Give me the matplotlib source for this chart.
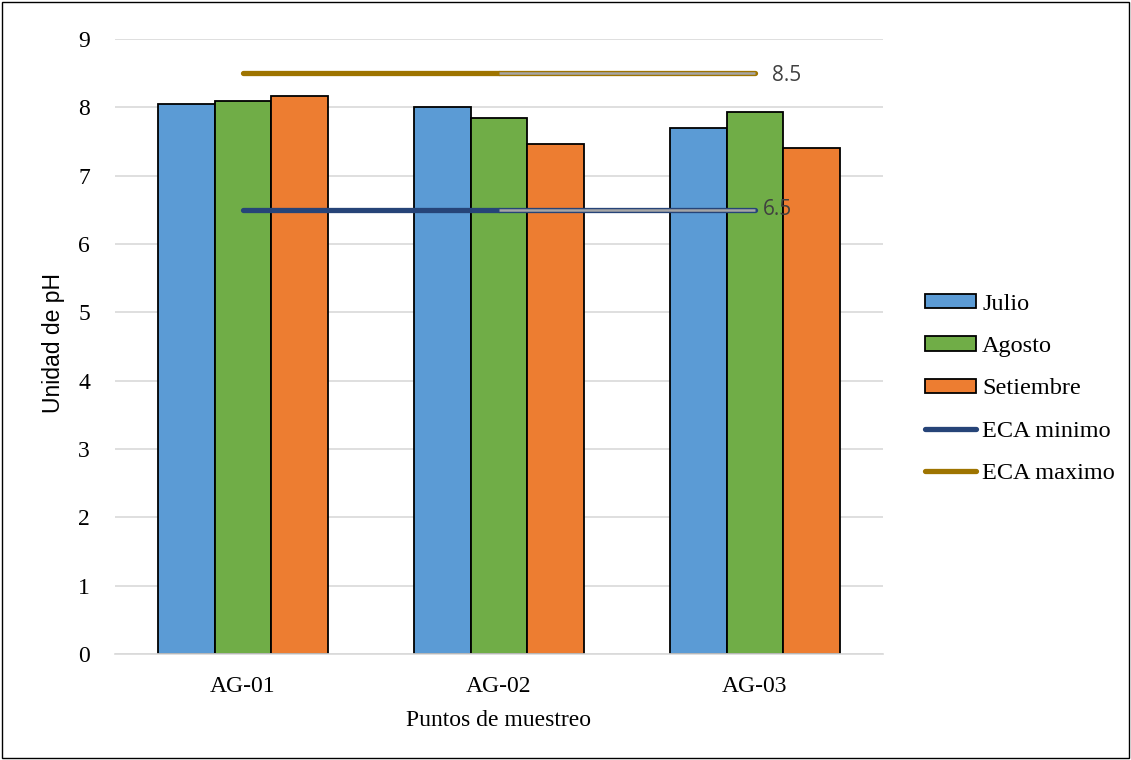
import numpy as np
import matplotlib.pyplot as plt
from matplotlib.patches import Patch, Rectangle
from matplotlib.lines import Line2D

puntos = ['AG-01', 'AG-02', 'AG-03']
julio = [8.05, 8.00, 7.70]
agosto = [8.09, 7.84, 7.93]
setiembre = [8.17, 7.47, 7.41]
eca_min = [6.5, 6.5, 6.5]
eca_max = [8.5, 8.5, 8.5]

c_jul = '#5B9BD5'
c_ago = '#70AD47'
c_set = '#ED7D31'
c_min = '#264478'
c_max = '#9E7400'

fig = plt.figure(figsize=(11.31, 7.6), dpi=100)
ax = fig.add_axes([115 / 1131, 106 / 760, 768 / 1131, 615 / 760])
fig.patches.append(Rectangle((0.002, 0.002), 0.996, 0.996, transform=fig.transFigure,
                             fill=False, edgecolor='black', linewidth=1))

x = np.arange(len(puntos))
w = 0.222
ax.bar(x - w, julio, w, color=c_jul, edgecolor='black', linewidth=1.3, zorder=2)
ax.bar(x, agosto, w, color=c_ago, edgecolor='black', linewidth=1.3, zorder=2)
ax.bar(x + w, setiembre, w, color=c_set, edgecolor='black', linewidth=1.3, zorder=2)

# lineas ECA: primera mitad solida, segunda mitad gris con borde de color
for vals, col, dx, dy in [(eca_min, c_min, 0.03, 0.0), (eca_max, c_max, 0.068, -0.04)]:
    ax.plot(x[:2], vals[:2], color=col, linewidth=3.8, solid_capstyle='round', zorder=3)
    ax.plot(x[1:], vals[1:], color=col, linewidth=3.8, solid_capstyle='round', zorder=3)
    ax.plot(x[1:], vals[1:], color='#A6A6A6', linewidth=1.8, solid_capstyle='butt', zorder=4)
    ax.text(x[-1] + dx, vals[-1] + dy, f'{vals[-1]:g}', fontsize=15, color='#404040',
            family='Open Sans', va='center', ha='left', zorder=5)

ax.set_xlim(-0.5, 2.5)
ax.set_ylim(0, 9)
ax.set_yticks(range(10))
ax.set_xticks(x)
ax.set_xticklabels(puntos)
ax.grid(axis='y', color='#D9D9D9', linewidth=1.2, zorder=0)
ax.set_axisbelow(True)
for s in ['top', 'right', 'left']:
    ax.spines[s].set_visible(False)
ax.spines['bottom'].set_color('#D9D9D9')
ax.spines['bottom'].set_linewidth(1.2)
ax.tick_params(length=0, labelsize=17)
ax.tick_params(axis='y', pad=18)
ax.tick_params(axis='x', pad=16)
for lab in ax.get_xticklabels() + ax.get_yticklabels():
    lab.set_family('Liberation Serif')
ax.set_xlabel('Puntos de muestreo', family='Liberation Serif', fontsize=17, labelpad=9)
ax.set_ylabel('Unidad de pH', family='Liberation Sans', fontsize=16.5)
ax.yaxis.set_label_coords(-50 / 768, 1 - (343 - 39) / 615)

handles = [Patch(facecolor=c_jul, edgecolor='black', linewidth=1.3),
           Patch(facecolor=c_ago, edgecolor='black', linewidth=1.3),
           Patch(facecolor=c_set, edgecolor='black', linewidth=1.3),
           Line2D([0], [0], color=c_min, linewidth=3.8, solid_capstyle='round'),
           Line2D([0], [0], color=c_max, linewidth=3.8, solid_capstyle='round')]
labels = ['Julio', 'Agosto', 'Setiembre', 'ECA minimo', 'ECA maximo']
fig.legend(handles, labels, loc='center left', bbox_to_anchor=(925 / 1131, 1 - 389 / 760),
           frameon=False, prop={'family': 'Liberation Serif', 'size': 17.5},
           handlelength=2.1, handleheight=0.55, handletextpad=0.25, labelspacing=0.88,
           borderpad=0, borderaxespad=0)

fig.savefig('out.png', dpi=100)
